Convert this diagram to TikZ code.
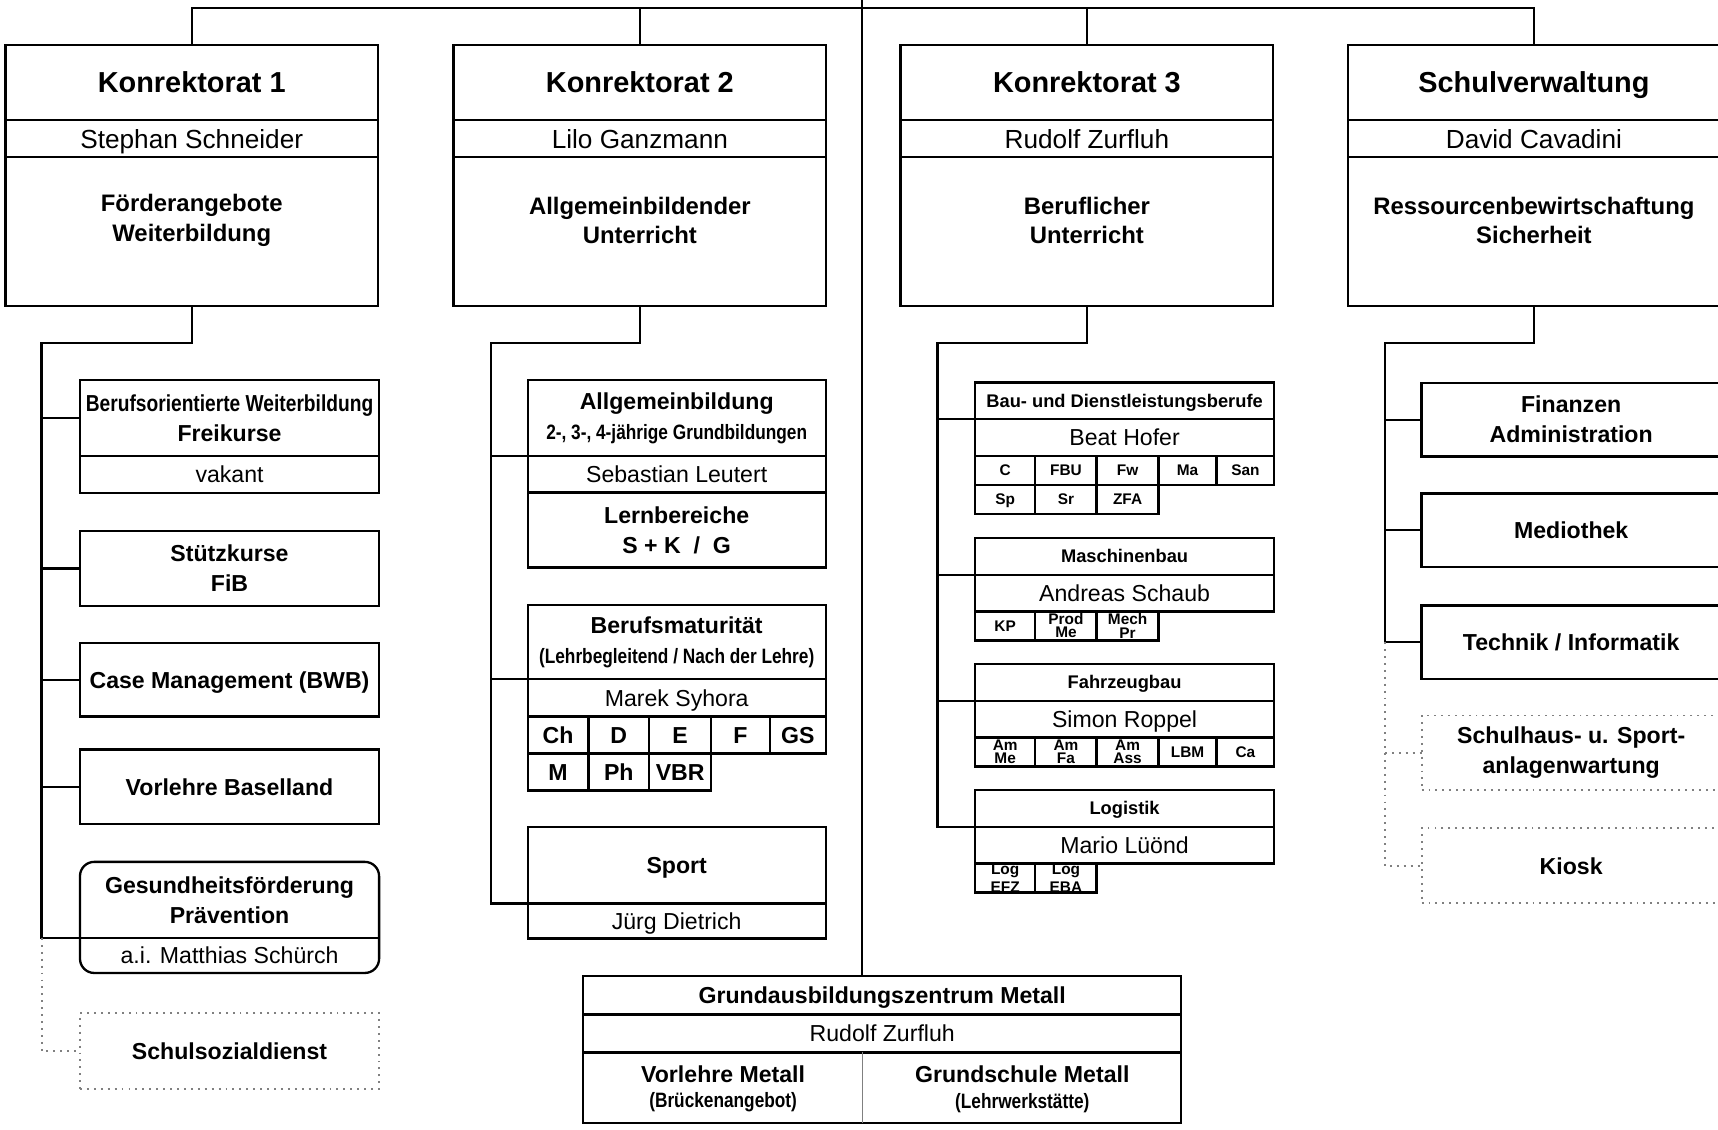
\documentclass[tikz,border=0pt]{standalone}
\usepackage{fontspec}
\setmainfont{Liberation Sans}
\newfontfamily\narrowfont[FakeStretch=0.83]{Liberation Sans}
\usetikzlibrary{positioning}

\newcommand{\ttlfont}{\fontsize{7.5}{9}\selectfont\bfseries}
\newcommand{\namefont}{\fontsize{6.8}{8}\selectfont}
\newcommand{\descfont}{\fontsize{6.2}{7.7}\selectfont\bfseries}
\newcommand{\subfont}{\fontsize{6}{7.8}\selectfont\bfseries}
\newcommand{\subnamefont}{\fontsize{6}{7}\selectfont}
\newcommand{\narrowsmall}{\narrowfont\fontsize{5.4}{7.8}\selectfont}
\newcommand{\gazfont}{\fontsize{6}{6.6}\selectfont\bfseries}
\newcommand{\grpfont}{\fontsize{4.75}{5.5}\selectfont\bfseries}
\newcommand{\cellfont}{\fontsize{6}{7}\selectfont\bfseries}
\newcommand{\kcellfont}{\fontsize{4}{3.4}\selectfont\bfseries}

\tikzset{
  box/.style={draw, line width=0.6pt, inner sep=0pt, outer sep=0pt, align=center, anchor=north west},
  oneline/.style={text depth=0pt},
  dotbox/.style={box, draw=gray, line width=0.5pt, dash pattern=on 0.5pt off 1.3pt},
  wmain/.style={minimum width=34mm},
  wsub/.style={minimum width=27.3mm},
  cell/.style={box, oneline, minimum height=3.38mm, font=\cellfont},
  kcell/.style={box, minimum height=2.65mm, font=\kcellfont},
  txt/.style={inner sep=0pt, align=center},
  link/.style={line width=0.6pt},
  dotlink/.style={draw=gray, line width=0.5pt, dash pattern=on 0.5pt off 1.3pt}
}

\begin{document}
\begin{tikzpicture}[x=0.1mm, y=-0.1mm]
\useasboundingbox (0,0) rectangle (1568,1031);
\clip (0,0) rectangle (1568,1031);
\coordinate (top) at (787,0);
\coordinate (bar) at (787,7.5);

% Konrektorate und Schulverwaltung
\node[box, oneline, wmain, minimum height=6.85mm, font=\ttlfont] (k1t) at (5,41) {Konrektorat 1};
\node[box, oneline, wmain, minimum height=3.4mm, font=\namefont, below=0pt of k1t] (k1n) {Stephan Schneider};
\node[box, wmain, minimum height=13.55mm, below=0pt of k1n] (k1d) {};
\node[txt, font=\descfont] (k1dt) at ([yshift=1mm]k1d.center) {Förderangebote\\Weiterbildung};

\node[box, oneline, wmain, minimum height=6.85mm, font=\ttlfont] (k2t) at (414,41) {Konrektorat 2};
\node[box, oneline, wmain, minimum height=3.4mm, font=\namefont, below=0pt of k2t] (k2n) {Lilo Ganzmann};
\node[box, wmain, minimum height=13.55mm, below=0pt of k2n] (k2d) {};
\node[txt, font=\descfont] (k2dt) at ([yshift=1mm]k2d.center) {Allgemeinbildender\\Unterricht};

\node[box, oneline, wmain, minimum height=6.85mm, font=\ttlfont] (k3t) at (822,41) {Konrektorat 3};
\node[box, oneline, wmain, minimum height=3.4mm, font=\namefont, below=0pt of k3t] (k3n) {Rudolf Zurfluh};
\node[box, wmain, minimum height=13.55mm, below=0pt of k3n] (k3d) {};
\node[txt, font=\descfont] (k3dt) at ([yshift=1mm]k3d.center) {Beruflicher\\Unterricht};

\node[box, oneline, wmain, minimum height=6.85mm, font=\ttlfont] (svt) at (1230,41) {Schulverwaltung};
\node[box, oneline, wmain, minimum height=3.4mm, font=\namefont, below=0pt of svt] (svn) {David Cavadini};
\node[box, wmain, minimum height=13.55mm, below=0pt of svn] (svd) {};
\node[txt, font=\descfont] (svdt) at ([yshift=1mm]svd.center) {Ressourcenbewirtschaftung\\Sicherheit};

\draw[link] (k1t.north) |- (bar) -| (svt.north);
\draw[link] (k2t.north) -- (k2t.north |- bar);
\draw[link] (k3t.north) -- (k3t.north |- bar);

% Konrektorat 1
\node[box, wsub, minimum height=6.9mm, font=\subfont] (bw) at (73,347) {{\narrowfont Berufsorientierte Weiterbildung}\\Freikurse};
\node[box, oneline, wsub, minimum height=3.4mm, font=\subnamefont, below=0pt of bw] (bwn) {vakant};
\node[box, wsub, minimum height=6.84mm, font=\subfont] (stk) at (73,484.6) {Stützkurse\\FiB};
\node[box, oneline, wsub, minimum height=6.7mm, font=\subfont] (cm) at (73,587) {Case Management (BWB)};
\node[box, oneline, wsub, minimum height=6.8mm, font=\subfont] (vbl) at (73,684) {Vorlehre Baselland};
\node[box, wsub, draw=none, minimum height=6.94mm, font=\subfont] (gf) at (73,786.6) {Gesundheitsförderung\\Prävention};
\node[box, oneline, wsub, draw=none, minimum height=3.2mm, font=\subnamefont, below=0pt of gf] (gfn) {a.i. Matthias Schürch};
\draw[link, rounded corners=1.3mm] (gf.north west) rectangle (gfn.south east);
\draw[link] (gf.south west) -- (gf.south east);
\node[dotbox, oneline, wsub, minimum height=6.95mm, font=\subfont] (ssd) at (73,924.5) {Schulsozialdienst};

\coordinate (k1b) at (38,313);
\draw[link] (k1d.south) |- (k1b) |- (gf.south west);
\foreach \n in {bw, stk, cm, vbl}
  \draw[link] (k1b |- \n.west) -- (\n.west);
\draw[dotlink] (k1b |- gf.south west) |- (ssd.west);

% Konrektorat 2
\node[box, minimum width=27.2mm, minimum height=6.9mm, font=\subfont] (ab) at (481.6,347) {Allgemeinbildung\\{\narrowsmall 2-, 3-, 4-jährige Grundbildungen}};
\node[box, oneline, minimum width=27.2mm, minimum height=3.36mm, font=\subnamefont, below=0pt of ab] (abn) {Sebastian Leutert};
\node[box, minimum width=27.2mm, minimum height=6.82mm, font=\subfont, below=0pt of abn] (abl) {Lernbereiche\\S + K~~/~~G};

\node[box, minimum width=27.2mm, minimum height=6.8mm, font=\subfont] (bm) at (481.6,552) {Berufsmaturität\\{\narrowsmall (Lehrbegleitend / Nach der Lehre)}};
\node[box, oneline, minimum width=27.2mm, minimum height=3.4mm, font=\subnamefont, below=0pt of bm] (bmn) {Marek Syhora};
\node[cell, minimum width=5.54mm] (bmc1) at (bmn.south west) {Ch};
\node[cell, minimum width=5.56mm, right=0pt of bmc1] (bmc2) {D};
\node[cell, minimum width=5.64mm, right=0pt of bmc2] (bmc3) {E};
\node[cell, minimum width=5.37mm, right=0pt of bmc3] (bmc4) {F};
\node[cell, minimum width=5.09mm, right=0pt of bmc4] (bmc5) {GS};
\node[cell, minimum width=5.54mm, below=0pt of bmc1] (bmc6) {M};
\node[cell, minimum width=5.56mm, below=0pt of bmc2] (bmc7) {Ph};
\node[cell, minimum width=5.64mm, below=0pt of bmc3] (bmc8) {VBR};

\node[box, oneline, minimum width=27.2mm, minimum height=7mm, font=\subfont] (sp) at (481.6,754.5) {Sport};
\node[box, oneline, minimum width=27.2mm, minimum height=3.2mm, font=\subnamefont, below=0pt of sp] (spn) {Jürg Dietrich};

\coordinate (k2b) at (448,313);
\draw[link] (k2d.south) |- (k2b) |- (sp.south west);
\draw[link] (k2b |- ab.south west) -- (ab.south west);
\draw[link] (k2b |- bm.south west) -- (bm.south west);

% Konrektorat 3
\node[box, oneline, wsub, minimum height=3.35mm, font=\grpfont] (bau) at (889.9,349) {Bau- und Dienstleistungsberufe};
\node[box, oneline, wsub, minimum height=3.35mm, font=\subnamefont, below=0pt of bau] (baun) {Beat Hofer};
\node[kcell, oneline, minimum width=5.5mm] (bauc1) at (baun.south west) {C};
\node[kcell, oneline, minimum width=5.6mm, right=0pt of bauc1] (bauc2) {FBU};
\node[kcell, oneline, minimum width=5.65mm, right=0pt of bauc2] (bauc3) {Fw};
\node[kcell, oneline, minimum width=5.3mm, right=0pt of bauc3] (bauc4) {Ma};
\node[kcell, oneline, minimum width=5.25mm, right=0pt of bauc4] (bauc5) {San};
\node[kcell, oneline, minimum width=5.5mm, below=0pt of bauc1] (bauc6) {Sp};
\node[kcell, oneline, minimum width=5.6mm, below=0pt of bauc2] (bauc7) {Sr};
\node[kcell, oneline, minimum width=5.65mm, below=0pt of bauc3] (bauc8) {ZFA};

\node[box, oneline, wsub, minimum height=3.35mm, font=\grpfont] (mb) at (889.9,491) {Maschinenbau};
\node[box, oneline, wsub, minimum height=3.35mm, font=\subnamefont, below=0pt of mb] (mbn) {Andreas Schaub};
\node[kcell, oneline, minimum width=5.5mm] (mbc1) at (mbn.south west) {KP};
\node[kcell, minimum width=5.6mm, right=0pt of mbc1] (mbc2) {Prod\\Me};
\node[kcell, minimum width=5.65mm, right=0pt of mbc2] (mbc3) {Mech\\Pr};

\node[box, oneline, wsub, minimum height=3.35mm, font=\grpfont] (fz) at (889.9,606) {Fahrzeugbau};
\node[box, oneline, wsub, minimum height=3.35mm, font=\subnamefont, below=0pt of fz] (fzn) {Simon Roppel};
\node[kcell, minimum width=5.5mm] (fzc1) at (fzn.south west) {Am\\Me};
\node[kcell, minimum width=5.6mm, right=0pt of fzc1] (fzc2) {Am\\Fa};
\node[kcell, minimum width=5.65mm, right=0pt of fzc2] (fzc3) {Am\\Ass};
\node[kcell, oneline, minimum width=5.3mm, right=0pt of fzc3] (fzc4) {LBM};
\node[kcell, oneline, minimum width=5.25mm, right=0pt of fzc4] (fzc5) {Ca};

\node[box, oneline, wsub, minimum height=3.35mm, font=\grpfont] (lo) at (889.9,721) {Logistik};
\node[box, oneline, wsub, minimum height=3.35mm, font=\subnamefont, below=0pt of lo] (lon) {Mario Lüönd};
\node[kcell, minimum width=5.5mm] (loc1) at (lon.south west) {Log\\EFZ};
\node[kcell, minimum width=5.6mm, right=0pt of loc1] (loc2) {Log\\EBA};

\coordinate (k3b) at (855.5,313);
\draw[link] (k3d.south) |- (k3b) |- (lo.south west);
\foreach \n in {bau, mb, fz}
  \draw[link] (k3b |- \n.south west) -- (\n.south west);

% Schulverwaltung
\node[box, wsub, minimum height=6.7mm, font=\subfont] (fin) at (1297.5,349.5) {Finanzen\\Administration};
\node[box, oneline, wsub, minimum height=6.7mm, font=\subfont] (med) at (1297.5,450.5) {Mediothek};
\node[box, oneline, wsub, minimum height=6.7mm, font=\subfont] (tec) at (1297.5,552.5) {Technik / Informatik};
\node[dotbox, wsub, minimum height=6.8mm, font=\subfont] (shw) at (1297.5,653) {Schulhaus- u. Sport-\\anlagenwartung};
\node[dotbox, oneline, wsub, minimum height=6.85mm, font=\subfont] (kio) at (1297.5,756) {Kiosk};

\coordinate (svb) at (1264,313);
\draw[link] (svd.south) |- (svb) |- (tec.west);
\foreach \n in {fin, med}
  \draw[link] (svb |- \n.west) -- (\n.west);
\draw[dotlink] (svb |- tec.west) |- (kio.west);
\draw[dotlink] (svb |- shw.west) -- (shw.west);

% Grundausbildungszentrum
\node[box, oneline, minimum width=54.56mm, minimum height=3.5mm, font=\subfont] (gaz) at (532.4,890.8) {Grundausbildungszentrum Metall};
\node[box, oneline, minimum width=54.56mm, minimum height=3.47mm, font=\subnamefont, below=0pt of gaz] (gazn) {Rudolf Zurfluh};
\node[box, minimum width=54.56mm, minimum height=6.46mm, below=0pt of gazn] (gazc) {};
\draw[line width=0.3pt, gray] (top |- gazc.north) -- (top |- gazc.south);
\node[txt, font=\gazfont] (vlm) at (660,994) {Vorlehre Metall\\{\narrowfont\fontsize{5.4}{6.6}\selectfont (Brückenangebot)}};
\node[txt, font=\gazfont] (gsm) at (933,994) {Grundschule Metall\\{\narrowfont\fontsize{5.4}{6.6}\selectfont (Lehrwerkstätte)}};
\draw[link] (top) -- (top |- gaz.north);
\end{tikzpicture}
\end{document}
